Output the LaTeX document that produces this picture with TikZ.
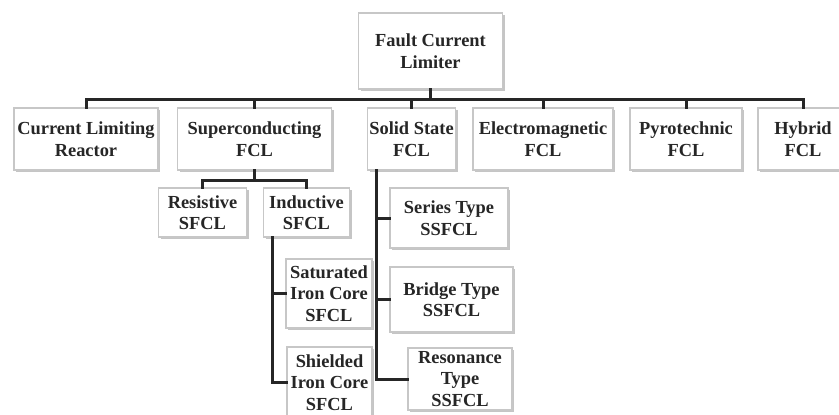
\documentclass[tikz,border=0pt]{standalone}
\usepackage{fontspec}
\setmainfont{Liberation Serif}
\usepackage{tikz}
\usetikzlibrary{positioning, calc, shadows}

\begin{document}
\begin{tikzpicture}[
    x=0.5pt, y=-0.5pt,
    box/.style={rectangle, draw=black!22, line width=0.6pt, fill=white, align=center, inner sep=1pt,
        text=black!85, font=\fontsize{9.2}{10.8}\selectfont\bfseries,
        drop shadow={shadow xshift=1.2pt, shadow yshift=-1.2pt, fill=black!45, opacity=0.5}},
    conn/.style={draw=black!85, line width=1.5pt, line cap=rect}
]
\useasboundingbox (0,0) rectangle (839,414);
\clip (0,0) rectangle (839,414);

% Root
\node[box, minimum width=72pt, minimum height=38pt] (root) at (430.5,51) {Fault Current\\Limiter};

% First level - six kinds of limiter
\node[box, minimum width=72pt, minimum height=31pt] (clr) at (86,139) {Current Limiting\\Reactor};
\node[box, minimum width=77pt, minimum height=31pt] (sfcl) at (254.5,139) {Superconducting\\FCL};
\node[box, minimum width=43pt, minimum height=31pt] (ssfcl) at (411.5,139) {Solid State\\FCL};
\node[box, minimum width=70pt, minimum height=31pt] (emfcl) at (543,139) {Electromagnetic\\FCL};
\node[box, minimum width=56pt, minimum height=31pt] (pyro) at (686,139) {Pyrotechnic\\FCL};
\node[box, minimum width=45pt, minimum height=31pt] (hybrid) at (803,139) {Hybrid\\FCL};

% Superconducting branch
\node[box, minimum width=44pt, minimum height=24.5pt] (res) at (202.5,212.5) {Resistive\\SFCL};
\node[box, minimum width=43pt, minimum height=24.5pt] (ind) at (306.5,212.5) {Inductive\\SFCL};
\node[box, minimum width=43pt, minimum height=34.5pt] (sat) at (329,293.5) {Saturated\\Iron Core\\SFCL};
\node[box, minimum width=42.5pt, minimum height=35.5pt] (shld) at (329.5,382.5) {Shielded\\Iron Core\\SFCL};

% Solid state branch
\node[box, minimum width=59pt, minimum height=30pt] (series) at (449,218) {Series Type\\SSFCL};
\node[box, minimum width=61.5pt, minimum height=32.5pt] (bridge) at (451.5,299.5) {Bridge Type\\SSFCL};
\node[box, minimum width=52pt, minimum height=31pt] (reson) at (460,379) {Resonance\\Type\\SSFCL};

% Connectors from root
\draw[conn] (root.south) -- ++(0,10) coordinate (bus);
\foreach \n in {clr, sfcl, ssfcl, emfcl, pyro, hybrid}
    \draw[conn] (bus) -| (\n.north);

% Connectors under superconducting FCL
\draw[conn] (sfcl.south) -- ++(0,10) coordinate (scbus);
\foreach \n in {res, ind}
    \draw[conn] (scbus) -| (\n.north);
\draw[conn] ([xshift=5pt]ind.south west) |- (sat.west);
\draw[conn] ([xshift=5pt]ind.south west) |- (shld.west);

% Connectors under solid state FCL
\foreach \n in {series, bridge, reson}
    \draw[conn] ([xshift=5pt]ssfcl.south west) |- (\n.west);

\end{tikzpicture}
\end{document}
